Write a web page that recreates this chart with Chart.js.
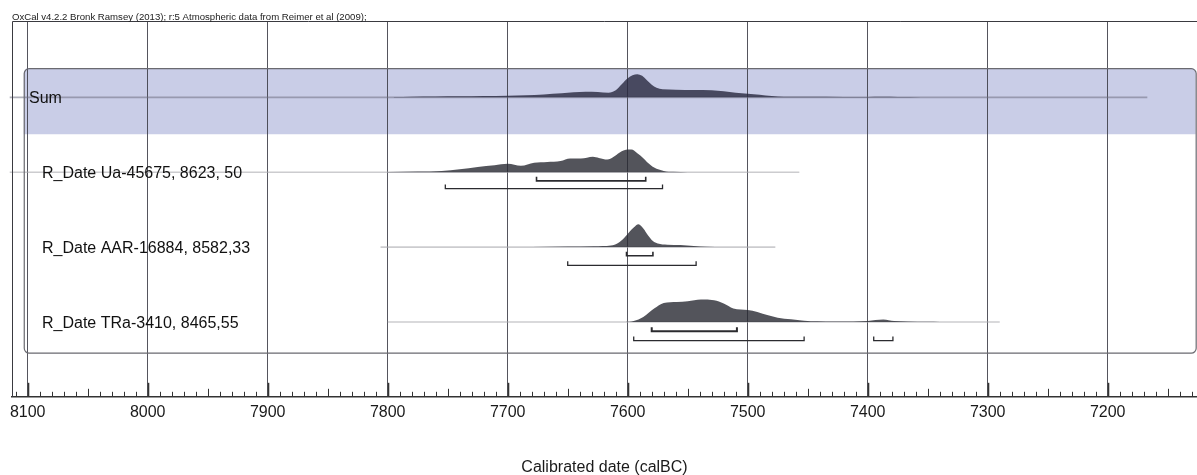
<!DOCTYPE html>
<html>
<head>
<meta charset="utf-8">
<title>OxCal multiplot</title>
<script src="https://cdn.jsdelivr.net/npm/chart.js@4.4.1/dist/chart.umd.min.js"></script>
<style>
  html, body { margin: 0; padding: 0; background: #fff; }
  #wrap { position: relative; width: 1197px; height: 475px; }
</style>
</head>
<body>
<div id="wrap"><canvas id="oxcal"></canvas></div>
<script>
const headerText = 'OxCal v4.2.2 Bronk Ramsey (2013); r:5 Atmospheric data from Reimer et al (2009);';
const axisTitle = 'Calibrated date (calBC)';
const rowNames = ['Sum', 'R_Date Ua-45675, 8623, 50', 'R_Date AAR-16884, 8582,33', 'R_Date TRa-3410, 8465,55'];
const tickYears = [8100, 8000, 7900, 7800, 7700, 7600, 7500, 7400, 7300, 7200];

// probability curves (relative density), dates in cal BC
const sumDates = [7795, 7780, 7760, 7740, 7720, 7700, 7685, 7670, 7655, 7645, 7635, 7625, 7616, 7610, 7605, 7600, 7596, 7592, 7588, 7584, 7580, 7576, 7571, 7560, 7545, 7530, 7520, 7510, 7500, 7490, 7480, 7470, 7450, 7420, 7400, 7388, 7375, 7355, 7345];
const sumProb = [0.3, 0.6, 0.8, 1.0, 1.3, 1.7, 2.2, 2.9, 4.0, 5.0, 5.5, 5.3, 4.6, 7.0, 13.0, 19.0, 22.0, 23.0, 21.5, 17.0, 12.5, 9.5, 8.0, 7.6, 7.3, 7.0, 6.0, 4.6, 3.5, 2.5, 1.3, 0.7, 0.5, 0.4, 0.4, 0.6, 0.4, 0.2, 0];

const uaDates = [7800, 7775, 7755, 7740, 7725, 7711, 7700, 7689, 7678, 7667, 7656, 7648, 7639, 7629, 7624, 7617, 7612, 7607, 7603, 7597, 7592, 7587, 7584, 7578, 7570, 7562, 7550];
const uaProb = [0.3, 0.7, 1.3, 3.0, 5.3, 7.0, 8.5, 6.5, 9.5, 10.3, 11.3, 13.8, 13.7, 15.5, 14.3, 12.7, 15.3, 19.5, 22.0, 22.7, 19.0, 14.0, 10.3, 4.7, 1.3, 0.4, 0];

const aarDates = [7700, 7680, 7650, 7628, 7614, 7608, 7603, 7599, 7595, 7591, 7587, 7583, 7579, 7575, 7567, 7556, 7545, 7534, 7520];
const aarProb = [0.1, 0.2, 0.5, 0.8, 1.5, 4.0, 9.0, 14.5, 19.5, 22.7, 18.5, 11.5, 6.0, 3.5, 2.3, 2.0, 1.0, 0.3, 0];

const traDates = [7602, 7595, 7587, 7578, 7570, 7559, 7550, 7539, 7528, 7520, 7512, 7500, 7492, 7483, 7475, 7464, 7453, 7442, 7428, 7412, 7400, 7387, 7378, 7367, 7350, 7340];
const traProb = [0, 1.0, 5.0, 13.3, 19.0, 20.0, 20.7, 22.3, 21.7, 18.3, 13.5, 12.0, 10.0, 6.7, 4.3, 2.7, 1.3, 0.7, 0.5, 0.5, 1.0, 2.5, 1.0, 0.5, 0.2, 0];

// calibrated ranges: 68.2% and 95.4%
const uaRange68 = [[7676, 7585]];
const uaRange95 = [[7752, 7571]];
const aarRange68 = [[7601, 7579]];
const aarRange95 = [[7650, 7543]];
const traRange68 = [[7580, 7509]];
const traRange95 = [[7595, 7453], [7395, 7379]];

// extent of the grey line under each curve
const sumSpan = [8115, 7167];
const uaSpan = [8115, 7457];
const aarSpan = [7806, 7477];
const traSpan = [7800, 7290];

document.addEventListener("DOMContentLoaded", function() {
    Chart.defaults.font.family = "'Liberation Sans', Arial, Helvetica, sans-serif";

    const rowBase = [4, 3, 2, 1];
    const K = 1 / 74.7;

    function curve(dates, prob, base, color) {
        return {
            data: dates.map((d, i) => ({ x: d, y: base + prob[i] * K })),
            fill: { value: base },
            backgroundColor: color,
            borderWidth: 0,
            pointRadius: 0,
            cubicInterpolationMode: 'monotone',
            order: 2
        };
    }

    function span(range, base, color) {
        return {
            data: [{ x: range[0], y: base }, { x: range[1], y: base }],
            borderColor: color,
            borderWidth: 1.6,
            pointRadius: 0,
            fill: false,
            clip: false,
            order: 3
        };
    }

    function brackets(ranges, base, drop, width) {
        const y = base - drop;
        const h = 0.055;
        return ranges.map(r => ({
            data: [{ x: r[0], y: y + h }, { x: r[0], y: y }, { x: r[1], y: y }, { x: r[1], y: y + h }],
            borderColor: '#2b2b2f',
            borderWidth: width,
            pointRadius: 0,
            fill: false,
            tension: 0,
            order: 1
        }));
    }

    const datasets = [
        span(sumSpan, rowBase[0], 'rgba(110,112,130,0.55)'),
        span(uaSpan, rowBase[1], 'rgba(170,170,175,0.6)'),
        span(aarSpan, rowBase[2], 'rgba(170,170,175,0.6)'),
        span(traSpan, rowBase[3], 'rgba(170,170,175,0.6)'),
        curve(sumDates, sumProb, rowBase[0], 'rgba(40,40,62,0.8)'),
        curve(uaDates, uaProb, rowBase[1], 'rgba(40,41,50,0.8)'),
        curve(aarDates, aarProb, rowBase[2], 'rgba(40,41,50,0.8)'),
        curve(traDates, traProb, rowBase[3], 'rgba(40,41,50,0.8)'),
        ...brackets(uaRange68, rowBase[1], 0.116, 1.6),
        ...brackets(uaRange95, rowBase[1], 0.218, 1.3),
        ...brackets(aarRange68, rowBase[2], 0.116, 1.6),
        ...brackets(aarRange95, rowBase[2], 0.245, 1.3),
        ...brackets(traRange68, rowBase[3], 0.125, 2),
        ...brackets(traRange95, rowBase[3], 0.25, 1.3)
    ];

    const oxcalPlugin = {
        id: 'oxcal',
        beforeDraw(chart) {
            const { ctx, scales: { x, y } } = chart;
            const l = x.getPixelForValue(8103.3), r = x.getPixelForValue(7126.7);
            const t = y.getPixelForValue(4.391), b = y.getPixelForValue(3.507);
            ctx.save();
            ctx.fillStyle = '#c9cde7';
            ctx.beginPath();
            ctx.roundRect(l, t, r - l, b - t, [5, 5, 0, 0]);
            ctx.fill();
            ctx.restore();
        },
        afterDatasetsDraw(chart) {
            const { ctx, chartArea: a, scales: { x, y } } = chart;
            ctx.save();
            // group box
            const l = x.getPixelForValue(8103.3), r = x.getPixelForValue(7126.7);
            const t = y.getPixelForValue(4.391), b = y.getPixelForValue(0.589);
            ctx.strokeStyle = '#6a6a70';
            ctx.lineWidth = 1.2;
            ctx.beginPath();
            ctx.roundRect(l + 0.5, t + 0.5, r - l, b - t, 5);
            ctx.stroke();

            // frame
            ctx.strokeStyle = '#3a3a40';
            ctx.lineWidth = 1;
            ctx.beginPath();
            ctx.moveTo(a.left + 0.5, a.bottom);
            ctx.lineTo(a.left + 0.5, a.top + 0.5);
            ctx.lineTo(a.right, a.top + 0.5);
            ctx.stroke();

            // small ticks along the axis
            ctx.strokeStyle = '#333';
            for (let v = 7130; v <= 8110; v += 10) {
                const h = v % 100 === 0 ? 14 : (v % 50 === 0 ? 8 : 5);
                const px = Math.round(x.getPixelForValue(v)) + 0.5;
                ctx.lineWidth = v % 100 === 0 ? 1.6 : 1;
                ctx.beginPath();
                ctx.moveTo(px, a.bottom);
                ctx.lineTo(px, a.bottom - h);
                ctx.stroke();
            }
            ctx.restore();
        },
        afterDraw(chart) {
            const { ctx, chartArea: a, scales: { y } } = chart;
            ctx.save();
            ctx.fillStyle = '#111';
            ctx.textBaseline = 'middle';
            ctx.font = "16px 'Liberation Sans', Arial, sans-serif";
            rowNames.forEach((name, i) => {
                const px = i === 0 ? a.left + 17 : a.left + 30;
                ctx.fillText(name, px, y.getPixelForValue(rowBase[i]) + 1.5);
            });
            ctx.font = "9.6px 'Liberation Sans', Arial, sans-serif";
            ctx.textBaseline = 'alphabetic';
            ctx.fillStyle = '#222';
            ctx.fillText(headerText, a.left, a.top - 1.5);
            ctx.restore();
        }
    };

    const ctx = document.getElementById('oxcal').getContext('2d');
    new Chart(ctx, {
        type: 'line',
        data: { datasets: datasets },
        options: {
            responsive: true,
            maintainAspectRatio: false,
            animation: false,
            layout: { padding: { left: 12, top: 21, right: 0, bottom: 0 } },
            plugins: {
                legend: { display: false },
                tooltip: { enabled: false }
            },
            scales: {
                x: {
                    type: 'linear',
                    reverse: true,
                    min: 7125.6,
                    max: 8113.1,
                    ticks: {
                        stepSize: 100,
                        includeBounds: false,
                        autoSkip: false,
                        maxRotation: 0,
                        padding: 6,
                        color: '#1a1a1a',
                        font: { size: 16 },
                        callback: v => tickYears.includes(v) ? String(v) : ''
                    },
                    grid: { color: 'rgba(55,55,65,0.85)', lineWidth: 1, drawTicks: false },
                    border: { display: true, color: '#333', width: 1.5 },
                    title: {
                        display: true,
                        text: axisTitle,
                        color: '#1a1a1a',
                        font: { size: 16, lineHeight: 0.875 },
                        padding: { top: 33, bottom: 0 }
                    }
                },
                y: { display: false, min: 0, max: 5.02 }
            }
        },
        plugins: [oxcalPlugin]
    });
});
</script>
</body>
</html>
